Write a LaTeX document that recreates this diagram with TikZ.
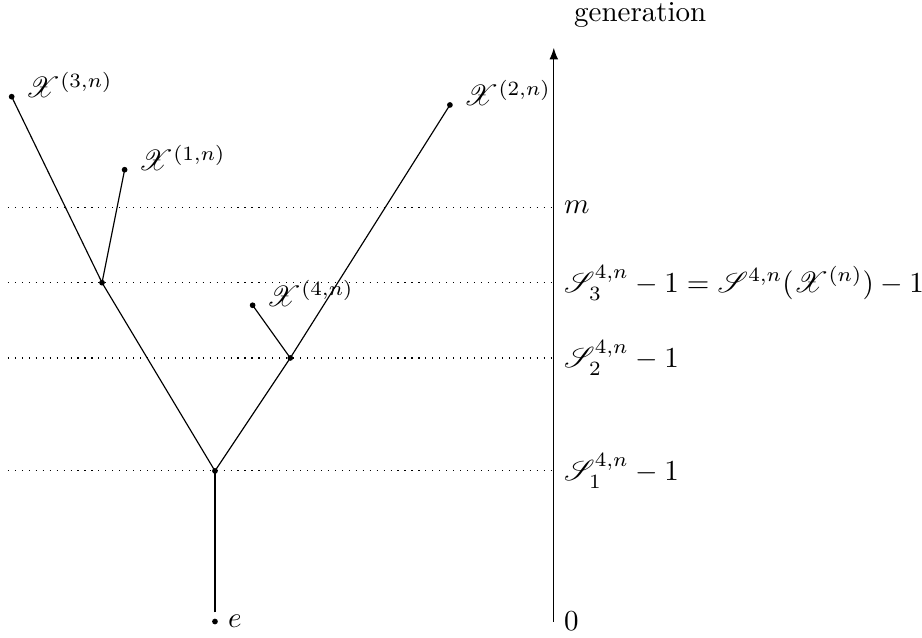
\documentclass[tikz,border=0pt]{standalone}
\usepackage{amsmath,amssymb}
\usepackage{mathrsfs}
\usetikzlibrary{arrows.meta}

\tikzset{
  pt/.style={circle, fill, inner sep=0.7pt},
  lvl/.style={dotted},
  tip/.style={anchor=west, inner sep=0pt, xshift=0.16cm, yshift=0.145cm},
}

\begin{document}
\begin{tikzpicture}[x=0.913cm, y=0.913cm]
  \useasboundingbox (-2.855,-0.206) rectangle (9.39,8.254);

  % Generation axis
  \coordinate (a0) at (4.5,0);
  \coordinate (a1) at (4.5,2);
  \coordinate (a2) at (4.5,3.5);
  \coordinate (a3) at (4.5,4.5);
  \coordinate (am) at (4.5,5.5);
  \coordinate (atop) at (4.5,7.62);
  \draw[-{Latex[length=4pt,width=3pt]}] (a0) -- (atop);
  \node[anchor=south west, inner sep=0pt, xshift=0.24cm, yshift=0.24cm] at (atop) {generation};
  \node[right] at (a0) {$0$};
  \node[right] at (a1) {$\mathscr{S}_1^{4,n}-1$};
  \node[right] at (a2) {$\mathscr{S}_2^{4,n}-1$};
  \node[right] at (a3) {$\mathscr{S}_3^{4,n}-1=\mathscr{S}^{4,n}(\mathscr{X}^{(n)})-1$};
  \node[right] at (am) {$m$};

  % Levels
  \coordinate (l1) at (-2.75,2);
  \coordinate (l2) at (-2.75,3.5);
  \coordinate (l3) at (-2.75,4.5);
  \coordinate (lm) at (-2.75,5.5);
  \draw[lvl] (l1) -- (a1);
  \draw[lvl] (l2) -- (a2);
  \draw[lvl] (l3) -- (a3);
  \draw[lvl] (lm) -- (am);

  % Tree
  \node[pt] (e) at (0,0) {};
  \node[right=1pt] at (e) {$e$};
  \coordinate (eup) at (0,0.12);
  \node[pt] (r) at (0,2) {};
  \node[pt] (lb) at (-1.5,4.5) {};
  \node[pt] (rb) at (1,3.5) {};
  \node[pt] (x3) at (-2.7,6.97) {};
  \node[pt] (x1) at (-1.2,6) {};
  \node[pt] (x4) at (0.5,4.2) {};
  \node[pt] (x2) at (3.12,6.86) {};
  \node[tip] at (x3) {$\mathscr{X}^{(3,n)}$};
  \node[tip] at (x1) {$\mathscr{X}^{(1,n)}$};
  \node[tip] at (x4) {$\mathscr{X}^{(4,n)}$};
  \node[tip] at (x2) {$\mathscr{X}^{(2,n)}$};

  \draw (eup) -- (r.center);
  \draw (r.center) -- (lb.center) -- (x3.center);
  \draw (lb.center) -- (x1.center);
  \draw (r.center) -- (rb.center) -- (x2.center);
  \draw (rb.center) -- (x4.center);
\end{tikzpicture}
\end{document}
